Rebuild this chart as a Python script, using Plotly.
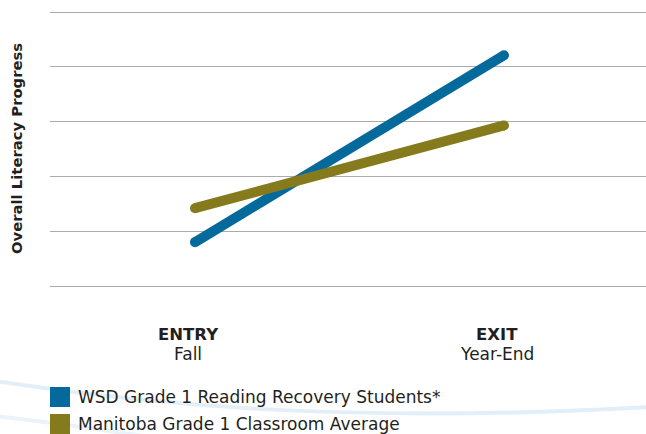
import plotly.graph_objects as go

# ---- data ----
stages = [0, 1]
stage_titles = ["ENTRY", "EXIT"]
stage_subtitles = ["Fall", "Year-End"]
series_names = ["WSD Grade 1 Reading Recovery Students*", "Manitoba Grade 1 Classroom Average"]
wsd_values = [0.80, 4.21]
manitoba_values = [1.42, 2.93]
grid_values = [0, 1, 2, 3, 4, 5]

colors = ["#04699B", "#857B1D"]
FONT = "DejaVu Sans"

fig = go.Figure()
for name, vals, col in zip(series_names, [wsd_values, manitoba_values], colors):
    fig.add_trace(go.Scatter(
        x=stages, y=vals, mode="lines+markers", name=name,
        line=dict(color=col, width=10),
        marker=dict(color=col, size=10, line=dict(width=0)),
        showlegend=False, hoverinfo="skip"))

# plot area: x 50..646 px, y 8..290 px
W, H = 646, 434
L, R, T, B = 50, 0, 8, 144
pw, ph = W - L - R, H - T - B

def px_x(px):
    return (px - L) / pw

def px_y(py):
    return (H - B - py) / ph

annotations = []
# category labels
for xv, t, s in zip(stages, stage_titles, stage_subtitles):
    annotations.append(dict(
        x=xv, xref="x", y=px_y(334), yref="paper", xshift=-7,
        text=f"<b>{t}</b>", showarrow=False, align="center",
        xanchor="center", yanchor="middle",
        font=dict(family=FONT, size=16.5, color="#231F20")))
    annotations.append(dict(
        x=xv, xref="x", y=px_y(354), yref="paper", xshift=-7,
        text=s, showarrow=False, align="center",
        xanchor="center", yanchor="middle",
        font=dict(family=FONT, size=17, color="#231F20")))

# y-axis title
annotations.append(dict(
    x=px_x(16), xref="paper", y=0.5, yref="paper", textangle=-90,
    text="Overall Literacy Progress", showarrow=False,
    xanchor="center", yanchor="middle",
    font=dict(family=FONT, size=14.8, color="#231F20", weight=600)))

shapes = []
# faint background swooshes
shapes.append(dict(type="path", xref="paper", yref="paper",
    path=(f"M {px_x(-5)},{px_y(381)} C {px_x(150)},{px_y(405)} "
          f"{px_x(350)},{px_y(424)} {px_x(650)},{px_y(407)}"),
    line=dict(color="#E3EFF8", width=4), layer="below"))
shapes.append(dict(type="path", xref="paper", yref="paper",
    path=f"M {px_x(-5)},{px_y(416)} Q {px_x(80)},{px_y(426)} {px_x(170)},{px_y(440)}",
    line=dict(color="#EAF3F9", width=4), layer="below"))

# legend (manual)
leg_centers = [397, 424]
for name, col, cy in zip(series_names, colors, leg_centers):
    shapes.append(dict(type="rect", xref="paper", yref="paper",
        x0=px_x(50), x1=px_x(70), y0=px_y(cy - 10), y1=px_y(cy + 10),
        fillcolor=col, line=dict(width=0)))
    annotations.append(dict(
        x=px_x(76), xref="paper", y=px_y(cy), yref="paper",
        text=name, showarrow=False, xanchor="left", yanchor="middle",
        font=dict(family=FONT, size=17, color="#231F20")))

x0v = -(195 - L) / 309
x1v = 1 + (W - 504) / 309
y_top = (286 - T) / 54.8
y_bot = -(H - B - 286) / 54.8

fig.update_layout(
    width=W, height=H,
    margin=dict(l=L, r=R, t=T, b=B),
    paper_bgcolor="white", plot_bgcolor="white",
    xaxis=dict(range=[x0v, x1v], showgrid=False, zeroline=False,
               showticklabels=False, showline=False, fixedrange=True),
    yaxis=dict(range=[y_bot, y_top], tickvals=grid_values, showgrid=True,
               gridcolor="#ABABAB", gridwidth=1.3, zeroline=False,
               showticklabels=False, showline=False, fixedrange=True),
    annotations=annotations, shapes=shapes,
    showlegend=False,
)

fig.write_html("out.html")
